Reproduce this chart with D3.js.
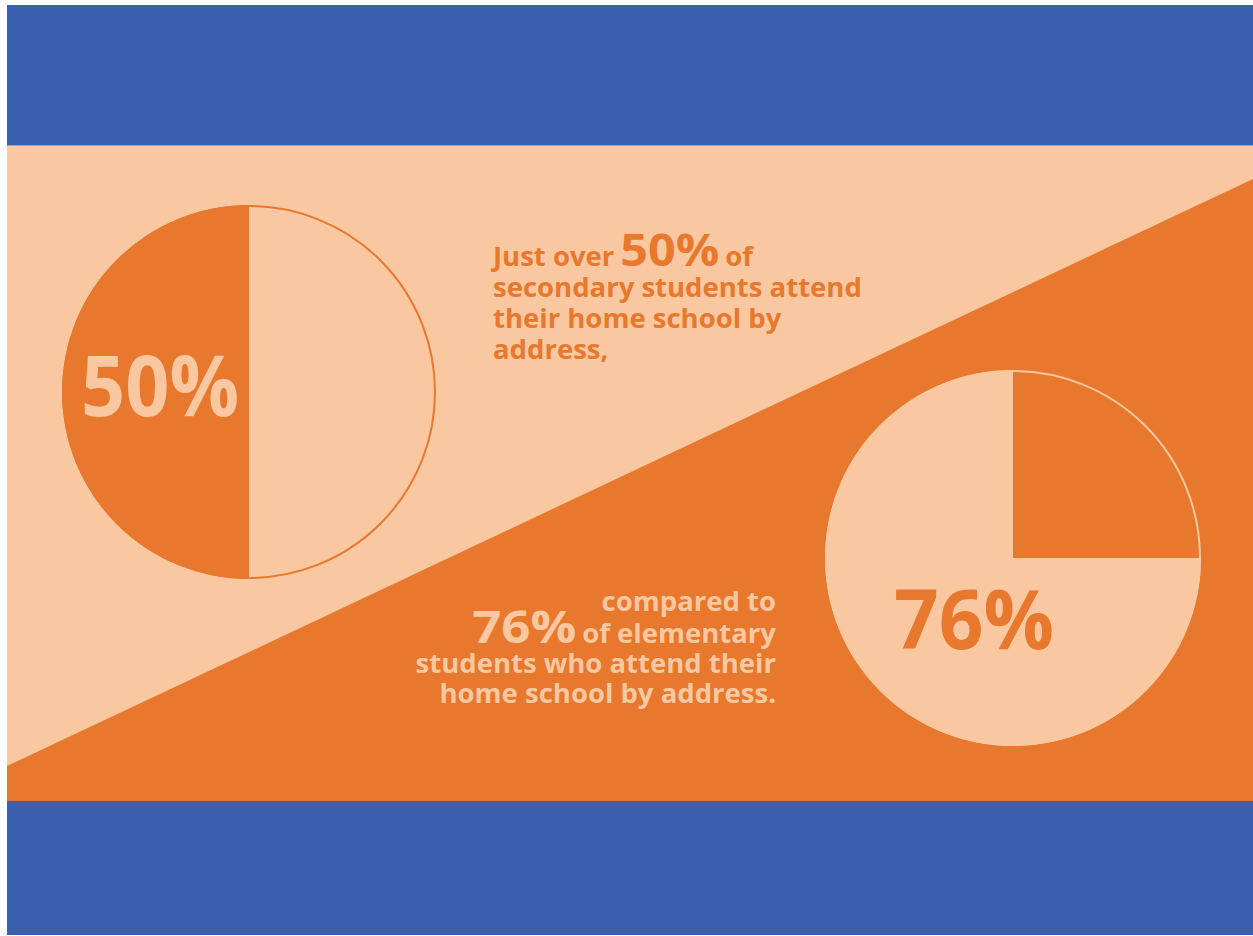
<!DOCTYPE html>
<html>
<head>
<meta charset="utf-8">
<script src="https://cdn.jsdelivr.net/npm/d3@7"></script>
<style>
  html, body { margin: 0; padding: 0; background: #ffffff; }
  svg { display: block; }
  text { font-family: "Open Sans", "Noto Sans", sans-serif; font-weight: 700; white-space: pre; }
</style>
</head>
<body>
<svg id="chart" width="1253" height="936"></svg>
<script>
// ---- data ----
const groups = ["secondary", "elementary"];
const homeSchoolPct = [50, 75];          // share drawn in each pie (read from the wedges)
const pieLabels = ["50%", "76%"];
const secondaryLines = [
  [["Just over", "s"], ["50%", "b"], ["of", "s"]],
  [["secondary students attend", "s"]],
  [["their home school by", "s"]],
  [["address,", "s"]]
];
const elementaryLines = [
  [["compared to", "s"]],
  [["76%", "b"], ["of elementary", "s"]],
  [["students who attend their", "s"]],
  [["home school by address.", "s"]]
];

// ---- colours ----
const BLUE = "#3a5faf", PEACH = "#f9c8a0", ORANGE = "#e8782e";

const svg = d3.select("#chart");
const W = 1253, H = 936;
const x = d3.scaleLinear().domain([0, 1]).range([7, 1253]);

svg.append("rect").attr("width", W).attr("height", H).attr("fill", "#fff");
svg.append("rect").attr("x", x(0)).attr("y", 5).attr("width", x(1) - x(0)).attr("height", 141).attr("fill", BLUE);
svg.append("rect").attr("x", x(0)).attr("y", 146).attr("width", x(1) - x(0)).attr("height", 655).attr("fill", PEACH);
svg.append("line").attr("x1", x(0)).attr("x2", x(1)).attr("y1", 145.5).attr("y2", 145.5)
  .attr("stroke", "#a9a3b3").attr("stroke-width", 1.2);
svg.append("polygon")
  .attr("points", [[x(0), 766], [x(1), 179], [x(1), 801], [x(0), 801]].map(p => p.join(",")).join(" "))
  .attr("fill", ORANGE);
svg.append("rect").attr("x", x(0)).attr("y", 801).attr("width", x(1) - x(0)).attr("height", 134).attr("fill", BLUE);

// ---- pies ----
const pieGen = d3.pie().sort(null).value(d => d.v);
const pies = [
  { cx: 249, cy: 392, r: 187,
    slices: [{ v: 100 - homeSchoolPct[0], c: PEACH }, { v: homeSchoolPct[0], c: ORANGE }],
    ring: ORANGE, label: pieLabels[0], lx: 81, lw: 158, ly: 416, ls: 85, lc: PEACH },
  { cx: 1013, cy: 558, r: 188,
    slices: [{ v: 100 - homeSchoolPct[1], c: ORANGE }, { v: homeSchoolPct[1], c: PEACH }],
    ring: PEACH, label: pieLabels[1], lx: 894, lw: 160, ly: 649, ls: 82, lc: ORANGE }
];
pies.forEach(p => {
  const g = svg.append("g").attr("transform", `translate(${p.cx},${p.cy})`);
  const arc = d3.arc().innerRadius(0).outerRadius(p.r);
  g.selectAll("path").data(pieGen(p.slices)).join("path")
    .attr("d", arc).attr("fill", d => d.data.c);
  g.append("circle").attr("r", p.r - 1).attr("fill", "none").attr("stroke", p.ring).attr("stroke-width", 2);
  svg.append("text").attr("x", p.lx).attr("y", p.ly)
    .attr("font-size", p.ls).attr("fill", p.lc)
    .attr("textLength", p.lw).attr("lengthAdjust", "spacingAndGlyphs").text(p.label);
});

// ---- text blocks (pieces laid out by measurement) ----
const SMALL = 27.5, BIG = 45, BIGW = [99, 104], GAP = 6;
function block(lines, x0, baselines, anchor, color, bigW) {
  lines.forEach((parts, i) => {
    const items = parts.map(([s, k]) => {
      const t = svg.append("text").attr("y", baselines[i]).attr("fill", color)
        .attr("font-size", k === "b" ? BIG : SMALL).text(s);
      if (k === "b") t.attr("textLength", bigW).attr("lengthAdjust", "spacingAndGlyphs");
      const w = k === "b" ? bigW : t.node().getComputedTextLength();
      return { t, w };
    });
    const total = d3.sum(items, d => d.w) + GAP * (items.length - 1);
    let cx = anchor === "start" ? x0 : x0 - total;
    items.forEach(it => { it.t.attr("x", cx); cx += it.w + GAP; });
  });
}
block(secondaryLines, 493, [266, 297, 328, 359], "start", ORANGE, BIGW[0]);
block(elementaryLines, 776, [611, 643, 673, 703], "end", PEACH, BIGW[1]);
</script>
</body>
</html>
